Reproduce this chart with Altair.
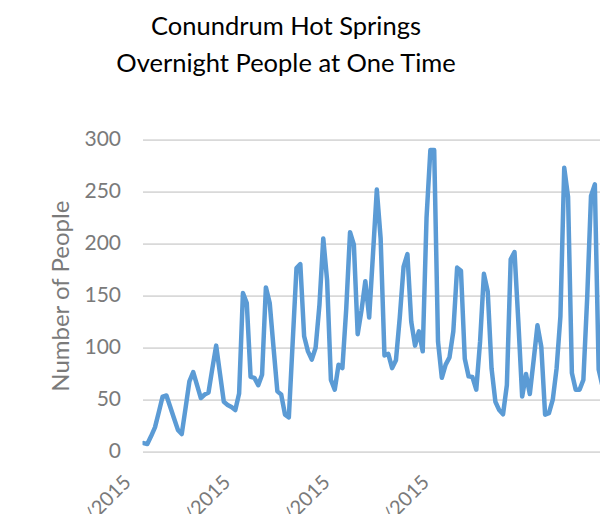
import altair as alt
import pandas as pd

title_lines = ["Conundrum Hot Springs", "Overnight People at One Time"]
y_title = "Number of People"

people = [
    8.3, 7.4, 15, 23.4, 38, 53, 54, 43, 32, 21,
    17, 42, 67.6, 76.6, 64, 51.6, 55, 57, 80, 102,
    75, 48, 45, 43, 40, 56, 152.6, 143, 72, 71,
    64, 74, 158, 143, 100, 58, 55, 35.6, 33, 105,
    176.6, 180.4, 111, 96.5, 88.5, 100, 141, 205, 165, 69,
    59.6, 83.7, 80.4, 137, 211, 199, 113, 136, 164, 129,
    190, 252, 205, 92.6, 94, 80.4, 88, 129, 178, 190,
    125, 102, 115.7, 96.5, 225, 290, 290, 106, 71, 83.7,
    90.7, 115.7, 177, 174, 89.4, 72.4, 71.8, 59.6, 106, 171,
    154, 80, 48, 40, 36, 64, 185, 192, 125, 53,
    74.7, 55.4, 88, 121.5, 101, 35.6, 37, 50, 80, 130,
    273, 245, 75.6, 59.6, 59.6, 69, 148, 246, 257, 79,
    63, 60, 55,
]
days = list(range(len(people)))

tick_days = [0, 26, 52, 78]
tick_labels = ["5/1/2015", "6/1/2015", "7/1/2015", "8/1/2015"]
y_ticks = [0, 50, 100, 150, 200, 250, 300]

df = pd.DataFrame({"day": days, "people": people})

label_expr = " : ".join(
    f"datum.value == {d} ? '{t}'" for d, t in zip(tick_days, tick_labels)
) + " : ''"

FONT = "Lato"
GRAY = "#7a7a7a"

chart = (
    alt.Chart(df)
    .mark_line(color="#5b9bd5", strokeWidth=4.5, strokeJoin="round", strokeCap="round", clip=True)
    .encode(
        x=alt.X(
            "day:Q",
            scale=alt.Scale(domain=[-0.26, 119.35], nice=False, zero=False),
            axis=alt.Axis(
                values=tick_days,
                labelExpr=label_expr,
                title=None,
                grid=False,
                ticks=False,
                tickSize=0,
                domain=False,
                labelAngle=-45,
                labelAlign="right",
                labelBaseline="middle",
                labelPadding=27,
                labelOffset=-16,
                labelFont=FONT,
                labelFontSize=20,
                labelColor=GRAY,
                labelOverlap=False,
                labelBound=False,
                labelFlush=False,
            ),
        ),
        y=alt.Y(
            "people:Q",
            scale=alt.Scale(domain=[0, 300], nice=False),
            axis=alt.Axis(
                values=y_ticks,
                title=y_title,
                grid=True,
                gridColor="#d9d9d9",
                gridWidth=1.8,
                ticks=False,
                tickSize=0,
                domain=False,
                labelPadding=22,
                labelFont=FONT,
                labelFontSize=21,
                labelColor=GRAY,
                titleFont=FONT,
                titleFontSize=24,
                titleFontWeight="normal",
                titleColor=GRAY,
                titleAngle=-90,
                titleBaseline="middle",
                titleAlign="center",
                titleX=-80.8,
                titleY=156,
            ),
        ),
    )
    .properties(
        width=457.5,
        height=312,
        autosize=alt.AutoSizeParams(type="none"),
        padding={"left": 134.5, "top": 131.7, "right": 0, "bottom": 62.3},
        title=alt.TitleParams(
            text=title_lines,
            font=FONT,
            fontSize=25.5,
            fontWeight="normal",
            color="#000000",
            anchor="middle",
            dx=-85.25,
            offset=51,
            lineHeight=37,
        ),
        background="white",
    )
    .configure_view(stroke=None)
)

chart.save("out.html", embed_options={"renderer": "svg", "actions": False})
